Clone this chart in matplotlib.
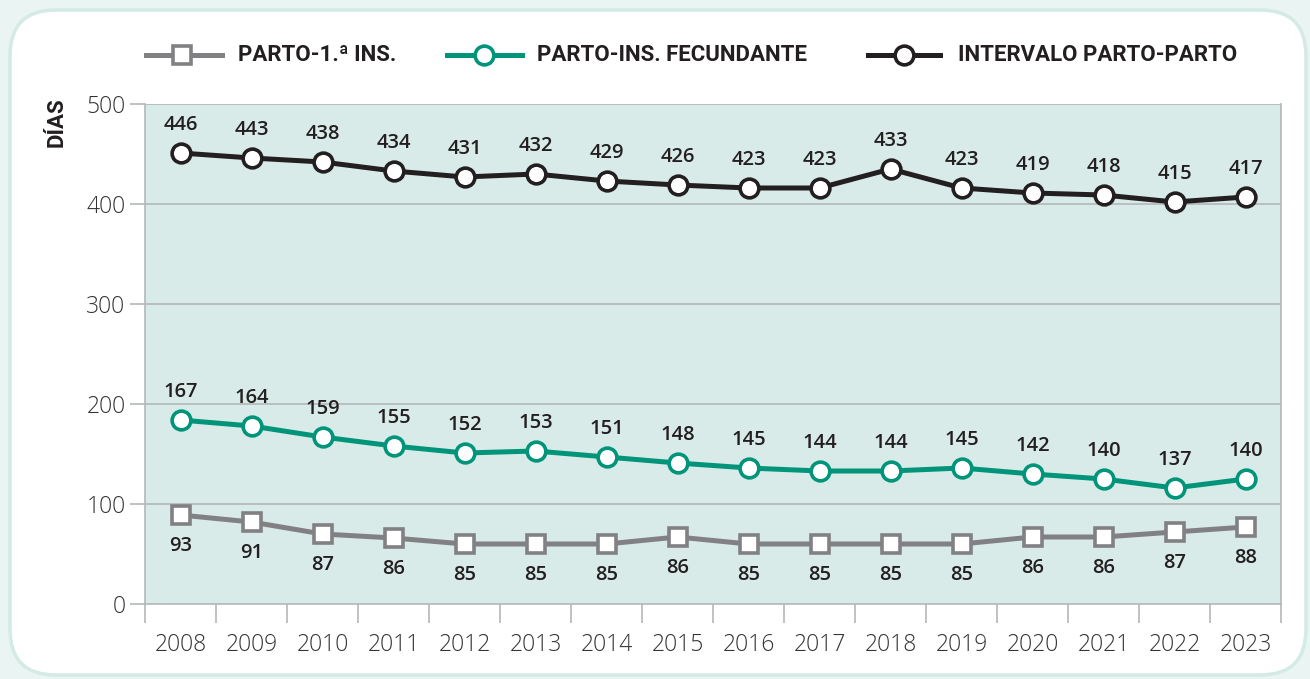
import matplotlib
matplotlib.use("Agg")
import matplotlib.pyplot as plt
from matplotlib.patches import FancyBboxPatch
from matplotlib.lines import Line2D
from matplotlib import font_manager

years = ["2008", "2009", "2010", "2011", "2012", "2013", "2014", "2015",
         "2016", "2017", "2018", "2019", "2020", "2021", "2022", "2023"]

# plotted positions (as drawn in the picture)
parto_ins_pos = [89, 82, 70, 66, 60, 60, 60, 67, 60, 60, 60, 60, 67, 67, 72, 77]
parto_fec_pos = [184, 178, 167, 158, 151, 153, 147, 141, 136, 133, 133, 136, 130, 125, 116, 125]
intervalo_pos = [451, 446, 442, 433, 427, 430, 423, 419, 416, 416, 435, 416, 411, 409, 402, 407]

# printed labels
parto_ins_lab = [93, 91, 87, 86, 85, 85, 85, 86, 85, 85, 85, 85, 86, 86, 87, 88]
parto_fec_lab = [167, 164, 159, 155, 152, 153, 151, 148, 145, 144, 144, 145, 142, 140, 137, 140]
intervalo_lab = [446, 443, 438, 434, 431, 432, 429, 426, 423, 423, 433, 423, 419, 418, 415, 417]

series_names = ["PARTO-1.ª INS.", "PARTO-INS. FECUNDANTE", "INTERVALO PARTO-PARTO"]
yticks = [0, 100, 200, 300, 400, 500]

GRAY = "#818184"
GREEN = "#00957a"
BLACK = "#231f20"
PLOTBG = "#d9ebe8"
OUTBG = "#eaf5f3"
GRID = "#b3b7b8"
TICKC = "#333333"

avail = {f.name for f in font_manager.fontManager.ttflist}
cond = "Liberation Sans Narrow" if "Liberation Sans Narrow" in avail else "Roboto"

W, H = 1310, 679
fig = plt.figure(figsize=(W / 100, H / 100), dpi=100)
fig.patch.set_facecolor(OUTBG)

panel = FancyBboxPatch((10 / W, 4 / H), 1296 / W, 665 / H,
                       boxstyle="round,pad=0,rounding_size=0.035",
                       transform=fig.transFigure, facecolor="white",
                       edgecolor="#d3eae5", linewidth=2.5, zorder=-10,
                       mutation_aspect=W / H)
fig.patches.append(panel)

x0, x1, yb, yt = 145, 1281, 604, 104
ax = fig.add_axes([x0 / W, 1 - yb / H, (x1 - x0) / W, (yb - yt) / H])
ax.set_zorder(5)
ax.set_facecolor(PLOTBG)

xs = list(range(len(years)))
ax.set_xlim(-0.5, len(years) - 0.5)
ax.set_ylim(0, 500)

for v in yticks[1:]:
    ax.axhline(v, color=GRID, lw=1.2, zorder=1)

lw = 3.6
ms = 13.5
mew = 2.6
ax.plot(xs, parto_ins_pos, color=GRAY, lw=lw, marker="s", ms=ms, mfc="white",
        mec=GRAY, mew=mew, zorder=3, solid_joinstyle="round")
ax.plot(xs, parto_fec_pos, color=GREEN, lw=lw, marker="o", ms=ms, mfc="white",
        mec=GREEN, mew=mew, zorder=3)
ax.plot(xs, intervalo_pos, color=BLACK, lw=lw, marker="o", ms=ms, mfc="white",
        mec=BLACK, mew=mew, zorder=3)

lab_kw = dict(ha="center", va="center", fontsize=14.5, color=BLACK,
              family="Open Sans", fontweight="semibold")
for x, p, l in zip(xs, intervalo_pos, intervalo_lab):
    ax.annotate(str(l), (x, p), xytext=(0, 20), textcoords="offset points", **lab_kw)
for x, p, l in zip(xs, parto_fec_pos, parto_fec_lab):
    ax.annotate(str(l), (x, p), xytext=(0, 20), textcoords="offset points", **lab_kw)
for x, p, l in zip(xs, parto_ins_pos, parto_ins_lab):
    ax.annotate(str(l), (x, p), xytext=(0, -22), textcoords="offset points", **lab_kw)

# axes styling
ax.spines["top"].set_visible(False)
for s in ["left", "right", "bottom"]:
    ax.spines[s].set_color(GRID)
    ax.spines[s].set_linewidth(1.2)

ax.set_yticks(yticks)
ax.set_yticklabels([str(v) for v in yticks], fontsize=16.5, color=TICKC,
                   family="Open Sans", fontweight="light")
ax.tick_params(axis="y", length=11, width=1.2, color=GRID, pad=3)

bounds = [i - 0.5 for i in range(len(years) + 1)]
ax.set_xticks(bounds)
ax.set_xticklabels([])
ax.tick_params(axis="x", which="major", length=14, width=1.2, color=GRID)
ax.set_xticks(xs, minor=True)
ax.set_xticklabels(years, minor=True, fontsize=16.5, color=TICKC,
                   family="Open Sans", fontweight="light")
ax.tick_params(axis="x", which="minor", length=0, pad=21)

fig.text(57 / W, 1 - 122 / H, "DÍAS", rotation=90, ha="center", va="center",
         fontsize=16, fontweight="bold", color=BLACK, family=cond)

# legend
leg_y = 1 - 55 / H
entries = [(146, 222, 182, "s", GRAY, 238, series_names[0]),
           (447, 522, 484, "o", GREEN, 537, series_names[1]),
           (868, 940, 904, "o", BLACK, 958, series_names[2])]
for xa, xb, xm, mk, c, xt, name in entries:
    fig.add_artist(Line2D([xa / W, xb / W], [leg_y, leg_y], color=c, lw=lw,
                          transform=fig.transFigure))
    fig.add_artist(Line2D([xm / W], [leg_y], marker=mk, ms=ms, mfc="white",
                          mec=c, mew=mew, lw=0, transform=fig.transFigure))
    fig.text(xt / W, leg_y, name, ha="left", va="center", fontsize=16,
             fontweight="bold", color=BLACK, family=cond)

fig.savefig("out.png", dpi=100, facecolor=fig.get_facecolor())
